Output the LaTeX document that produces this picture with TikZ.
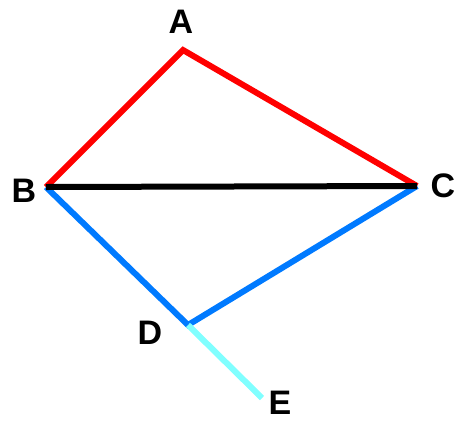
\documentclass[tikz,border=0pt]{standalone}
\usepackage{fontspec}
\setmainfont{Liberation Sans}
\definecolor{myblue}{RGB}{0,122,255}
\definecolor{mycyan}{RGB}{128,255,255}
\tikzset{
  edge/.style={line width=6pt, line join=miter},
  lbl/.style={font=\bfseries\fontsize{34}{34}\selectfont, inner sep=0pt, anchor=center}
}
\begin{document}
\begin{tikzpicture}[x=1pt,y=-1pt]
\useasboundingbox (0,0) rectangle (454,421);
\coordinate (A) at (183,50);
\coordinate (B) at (46,187);
\coordinate (C) at (417,186);
\coordinate (D) at (188,325);
\coordinate (E) at (262,398);
\draw[edge, red] (B) -- (A) -- (C);
\draw[edge, myblue] (B) -- (D) -- (C);
\draw[edge, mycyan] (D) -- (E);
\draw[edge, black] (B) -- (C);
\node[lbl] (la) at (181,22) {A};
\node[lbl] (lb) at (24,191) {B};
\node[lbl] (lc) at (443,186) {C};
\node[lbl] (ld) at (150,333) {D};
\node[lbl] (le) at (280,403) {E};
\end{tikzpicture}
\end{document}
